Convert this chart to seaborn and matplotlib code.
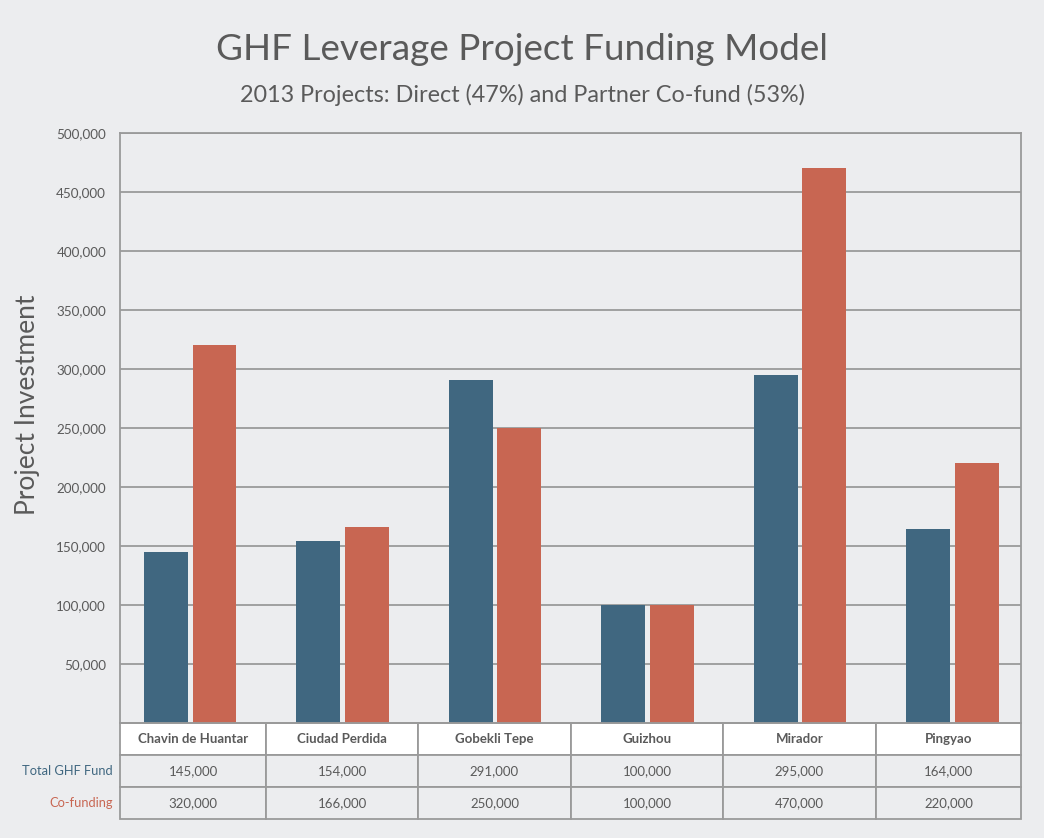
import pandas as pd
import seaborn as sns
import matplotlib.pyplot as plt

# --- data ---
projects = ["Chavin de Huantar", "Ciudad Perdida", "Gobekli Tepe",
            "Guizhou", "Mirador", "Pingyao"]
ghf_fund = [145000, 154000, 291000, 100000, 295000, 164000]
co_funding = [320000, 166000, 250000, 100000, 470000, 220000]
series = ["Total GHF Fund", "Co-funding"]
yticks = [50000, 100000, 150000, 200000, 250000, 300000, 350000, 400000, 450000, 500000]

BG = "#ecedef"
BLUE = "#406780"
RED = "#c86652"
GRID = "#9a9a9a"
TXT = "#5a5a5a"

df = pd.DataFrame({"Project": projects, series[0]: ghf_fund, series[1]: co_funding})
longdata = df.melt(id_vars="Project", var_name="Series", value_name="Value")

sns.set_style("white")
plt.rcParams["font.family"] = ["Lato", "DejaVu Sans"]

fig = plt.figure(figsize=(10.44, 8.38), dpi=100, facecolor=BG)
ax = fig.add_axes([120 / 1044, 1 - 723 / 838, 901 / 1044, 590 / 838])
ax.set_facecolor(BG)

sns.barplot(data=longdata, x="Project", y="Value", hue="Series",
            order=projects, hue_order=series,
            palette=[BLUE, RED], width=0.64, gap=0.1, linewidth=0,
            saturation=1, legend=False, ax=ax)

ax.set_ylim(0, 500000)
ax.set_xlim(-0.46, 5.45)
ax.set_yticks(yticks)
ax.set_yticklabels([f"{v:,}" for v in yticks], fontsize=9.7, color=TXT)
ax.tick_params(axis="y", length=0, pad=10)
ax.set_xticks([])
ax.set_xlabel("")
ax.set_ylabel("")
ax.yaxis.grid(True, color=GRID, linewidth=1.3)
ax.set_axisbelow(True)
for sp in ax.spines.values():
    sp.set_color(GRID)
    sp.set_linewidth(1.3)

fig.text(28 / 1044, 1 - 405 / 838, "Project Investment", rotation=90,
         ha="center", va="center", fontsize=19, color=TXT)

# --- data table under the bars ---
cell_text = [projects,
             [f"{v:,}" for v in ghf_fund],
             [f"{v:,}" for v in co_funding]]
col_w = [146, 152, 153, 152, 153, 145]
tbl = ax.table(cellText=cell_text, cellLoc="center", colWidths=col_w,
               bbox=[0, -96 / 590, 1, 96 / 590])
tbl.auto_set_font_size(False)
for (r, c), cell in tbl.get_celld().items():
    cell.set_edgecolor(GRID)
    cell.set_linewidth(1.3)
    cell.set_facecolor("white" if r == 0 else BG)
    cell.get_text().set_color(TXT)
    cell.get_text().set_fontsize(9.5)
    if r == 0:
        cell.get_text().set_fontweight("bold")

# row labels
fig.text(113 / 1044, 1 - 771 / 838, series[0], ha="right", va="center",
         fontsize=9.3, color=BLUE)
fig.text(113 / 1044, 1 - 803 / 838, series[1], ha="right", va="center",
         fontsize=9.3, color=RED)

# titles
fig.text(0.5, 1 - 50 / 838, "GHF Leverage Project Funding Model",
         ha="center", va="center", fontsize=26.6, color=TXT)
fig.text(0.5, 1 - 95 / 838, "2013 Projects: Direct (47%) and Partner Co-fund (53%)",
         ha="center", va="center", fontsize=16.8, color=TXT)

plt.savefig("out.png", dpi=100, facecolor=BG)
